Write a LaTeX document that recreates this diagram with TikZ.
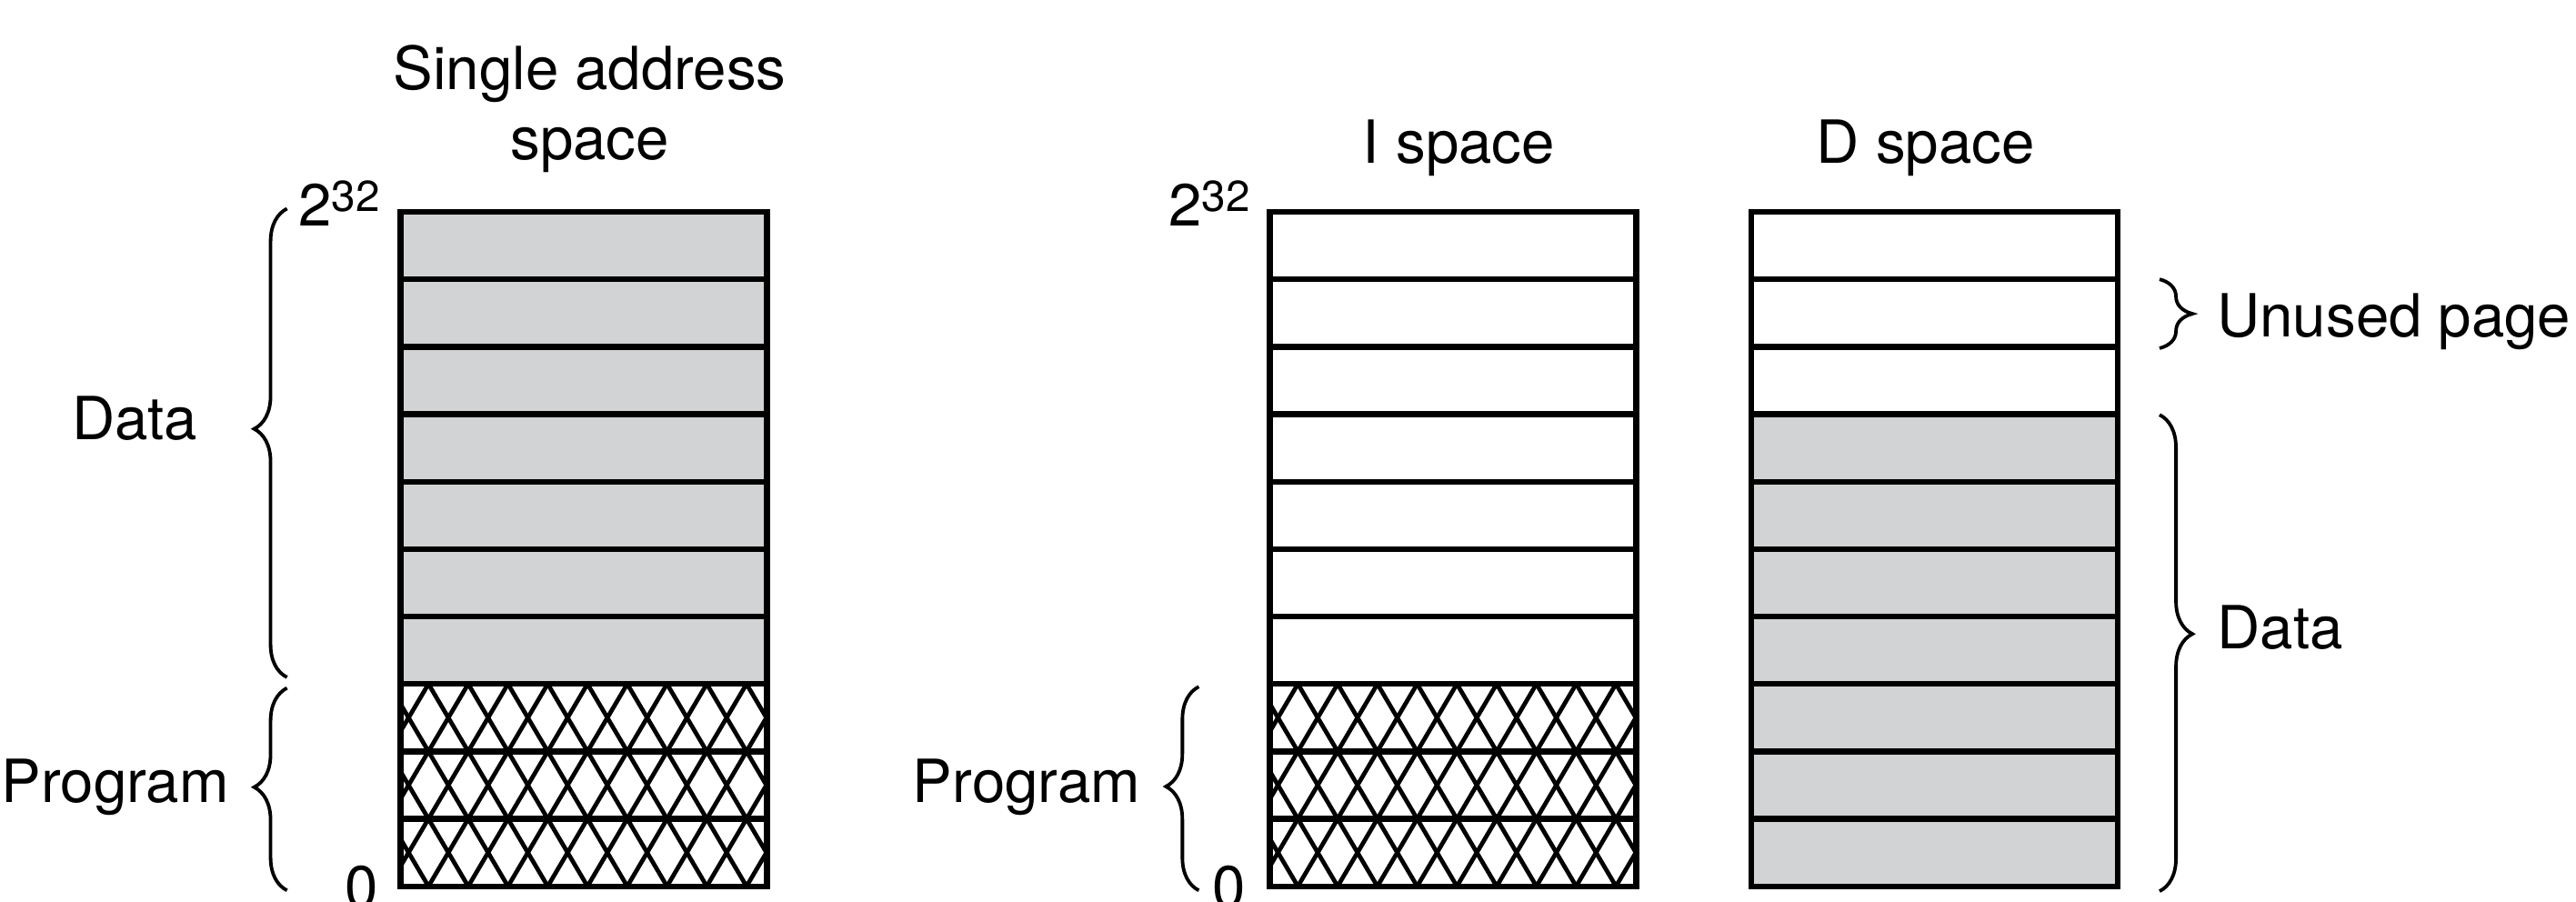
\documentclass[tikz,border=0pt]{standalone}
\usepackage{fontspec}
\setmainfont{TeX Gyre Heros}
\usetikzlibrary{decorations.pathreplacing}
\definecolor{pagegray}{RGB}{209,211,212}

\begin{document}
\begin{tikzpicture}[
  page/.style={draw,line width=1pt,minimum width=2.23cm,minimum height=0.4105cm,inner sep=0pt,outer sep=0pt},
  hatchline/.style={line width=0.75pt},
  brc/.style={decorate,line width=0.6pt,decoration={brace,amplitude=0.2cm,aspect=#1}},
  brc/.default=0.5,
  lbl/.style={inner sep=0pt,font=\fontsize{10.3}{12.05}\selectfont}]
  \useasboundingbox (0,0) rectangle (15.68,5.49);

  % pages, numbered from address 0 upward
  \foreach \j in {1,2,3} \node[page] (s\j) at (3.553,{0.095+(\j-0.5)*0.4105}) {};
  \foreach \j in {4,...,10} \node[page,fill=pagegray] (s\j) at (3.553,{0.095+(\j-0.5)*0.4105}) {};
  \foreach \j in {1,...,10} \node[page] (i\j) at (8.845,{0.095+(\j-0.5)*0.4105}) {};
  \foreach \j in {1,...,7} \node[page,fill=pagegray] (d\j) at (11.775,{0.095+(\j-0.5)*0.4105}) {};
  \foreach \j in {8,9,10} \node[page] (d\j) at (11.775,{0.095+(\j-0.5)*0.4105}) {};

  % cross hatching on the program pages
  \foreach \col in {s,i} {
    \begin{scope}
      \clip (\col1.south west) rectangle (\col3.north east);
      \foreach \k in {-4,...,12} {
        \draw[hatchline] ([xshift={(0.17+\k*0.242)*1cm}]\col3.north west) -- ++(0.726,-1.2315);
        \draw[hatchline] ([xshift={(0.17+\k*0.242)*1cm}]\col3.north west) -- ++(-0.726,-1.2315);
      }
    \end{scope}
  }

  % titles and addresses
  \node[lbl,align=center,anchor=north] (titleS) at (3.59,5.22) {Single address\\space};
  \node[lbl,anchor=base] (titleI) at (8.88,4.494) {I space};
  \node[lbl,anchor=base] (titleD) at (11.72,4.494) {D space};
  \node[lbl,anchor=base east] (topS) at (2.32,4.115) {2\raisebox{2.5pt}{\fontsize{7.5}{8}\selectfont 32}};
  \node[lbl,anchor=base east] (topI) at (7.615,4.115) {2\raisebox{2.5pt}{\fontsize{7.5}{8}\selectfont 32}};
  \node[lbl,anchor=base] (zeroS) at (2.20,-0.036) {0};
  \node[lbl,anchor=base] (zeroI) at (7.48,-0.036) {0};

  % braces
  \coordinate (dataS-bot) at (1.747,1.367);
  \coordinate (dataS-top) at (1.747,4.22);
  \coordinate (progS-bot) at (1.747,0.07);
  \coordinate (progS-top) at (1.747,1.302);
  \coordinate (progI-bot) at (7.297,0.07);
  \coordinate (progI-top) at (7.297,1.31);
  \coordinate (unused-top) at (13.145,3.79);
  \coordinate (unused-bot) at (13.145,3.37);
  \coordinate (dataD-top) at (13.145,2.965);
  \coordinate (dataD-bot) at (13.145,0.065);
  \draw[brc=0.53] (dataS-bot) -- (dataS-top);
  \draw[brc=0.51] (progS-bot) -- (progS-top);
  \draw[brc=0.51] (progI-bot) -- (progI-top);
  \draw[brc] (unused-top) -- (unused-bot);
  \draw[brc=0.46] (dataD-top) -- (dataD-bot);

  \node[lbl,anchor=base east] (dataS) at (1.21,2.815) {Data};
  \node[lbl,anchor=base east] (progS) at (1.40,0.605) {Program};
  \node[lbl,anchor=base east] (progI) at (6.948,0.605) {Program};
  \node[lbl,anchor=base west] (unused) at (13.49,3.44) {Unused page};
  \node[lbl,anchor=base west] (dataD) at (13.49,1.54) {Data};
\end{tikzpicture}
\end{document}
